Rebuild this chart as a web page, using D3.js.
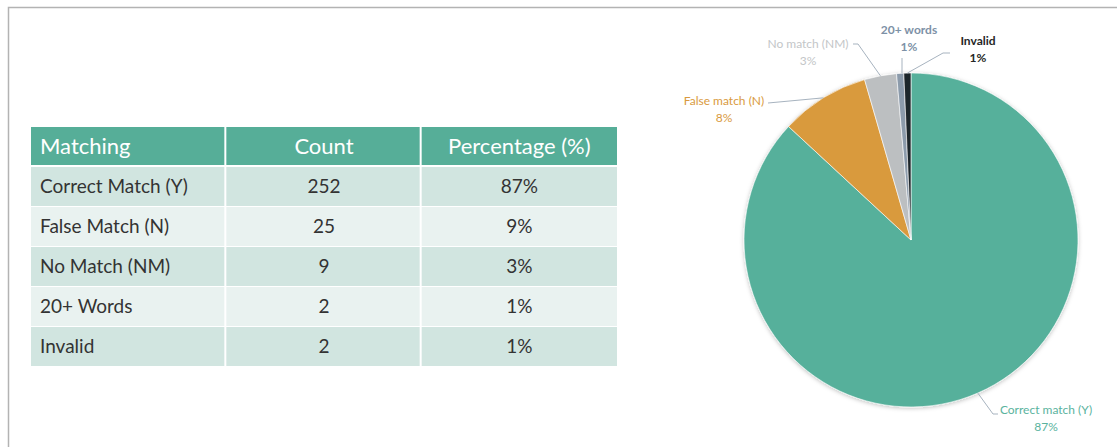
<!DOCTYPE html>
<html>
<head>
<meta charset="utf-8">
<script src="https://cdn.jsdelivr.net/npm/d3@7"></script>
<style>
  body { margin: 0; background: #fff; }
  svg { display: block; }
</style>
</head>
<body>
<div class="container"></div>
<script>
// table data
var headers = ["Matching", "Count", "Percentage (%)"];
var categories = ["Correct Match (Y)", "False Match (N)", "No Match (NM)", "20+ Words", "Invalid"];
var counts = [252, 25, 9, 2, 2];
var percents = ["87%", "9%", "3%", "1%", "1%"];

// pie data
var pieNames = ["Correct match (Y)", "False match (N)", "No match (NM)", "20+ words", "Invalid"];
var pieLabels = ["87%", "8%", "3%", "1%", "1%"];
var pieColors = ["#57b09b", "#d99a3e", "#bcbfc1", "#8c9bab", "#1f252a"];
var labelColors = ["#5ab39e", "#d99a3e", "#c3c6c8", "#7d91a6", "#262626"];

var W = 1117, H = 447;

var svg = d3.select('.container').append("svg")
	.attr("width", W)
	.attr("height", H);

// frame lines
svg.append("path")
	.attr("d", "M8.5," + H + "V7.5H" + W)
	.attr("fill", "none")
	.attr("stroke", "#b3b3b3")
	.attr("stroke-width", 1.5);

// ---- table ----
var tbl = { left: 31, right: 617, headTop: 127, headH: 38, bodyTop: 167, rowH: 40 };

var col = d3.scaleBand()
	.domain(d3.range(headers.length))
	.range([tbl.left, tbl.right]);

var row = d3.scaleBand()
	.domain(d3.range(categories.length))
	.range([tbl.bodyTop, tbl.bodyTop + tbl.rowH * categories.length]);

var head = svg.append("g");
head.selectAll("rect").data(headers).enter().append("rect")
	.attr("x", function (d, i) { return col(i); })
	.attr("y", tbl.headTop)
	.attr("width", function (d, i) { return col.bandwidth() - (i < headers.length - 1 ? 2 : 0); })
	.attr("height", tbl.headH)
	.attr("fill", "#56ae98");

head.selectAll("text").data(headers).enter().append("text")
	.attr("x", function (d, i) { return i === 0 ? col(i) + 9 : col(i) + col.bandwidth() / 2; })
	.attr("y", tbl.headTop + tbl.headH / 2 + 8)
	.attr("text-anchor", function (d, i) { return i === 0 ? "start" : "middle"; })
	.attr("fill", "#ffffff")
	.style("font-family", "Lato, 'Open Sans', sans-serif")
	.style("font-size", "22px")
	.text(function (d) { return d; });

var rowsData = categories.map(function (c, i) {
	return [c, String(counts[i]), percents[i]];
});

var rows = svg.selectAll("g.row").data(rowsData).enter().append("g")
	.attr("class", "row")
	.attr("transform", function (d, i) { return "translate(0," + row(i) + ")"; });

rows.selectAll("rect").data(function (d, i) { return d.map(function (v) { return { v: v, r: i }; }); })
	.enter().append("rect")
	.attr("x", function (d, i) { return col(i); })
	.attr("y", 0)
	.attr("width", function (d, i) { return col.bandwidth() - (i < headers.length - 1 ? 2 : 0); })
	.attr("height", row.bandwidth() - 1)
	.attr("fill", function (d) { return d.r % 2 === 0 ? "#d1e5e0" : "#e9f2f0"; });

rows.selectAll("text").data(function (d) { return d; })
	.enter().append("text")
	.attr("x", function (d, i) { return i === 0 ? col(i) + 9 : col(i) + col.bandwidth() / 2; })
	.attr("y", row.bandwidth() / 2 + 6)
	.attr("text-anchor", function (d, i) { return i === 0 ? "start" : "middle"; })
	.attr("fill", "#333333")
	.style("font-family", "Lato, 'Open Sans', sans-serif")
	.style("font-size", "19px")
	.text(function (d) { return d; });

// ---- pie ----
var cx = 911, cy = 240, R = 167;

var defs = svg.append("defs");
var f = defs.append("filter").attr("id", "shadow")
	.attr("x", "-10%").attr("y", "-10%").attr("width", "120%").attr("height", "120%");
f.append("feDropShadow").attr("dx", 0).attr("dy", 1).attr("stdDeviation", 2)
	.attr("flood-color", "#000").attr("flood-opacity", 0.25);

var pie = d3.pie().sort(null).value(function (d) { return d; });
var arcs = pie(counts);
var arc = d3.arc().innerRadius(0).outerRadius(R);

var pieG = svg.append("g").attr("transform", "translate(" + cx + "," + cy + ")");

pieG.append("g").attr("filter", "url(#shadow)")
	.selectAll("path").data(arcs).enter().append("path")
	.attr("d", arc)
	.attr("fill", function (d, i) { return pieColors[i]; })
	.attr("stroke", "#ffffff")
	.attr("stroke-width", 0.6);

// label layout (relative to pie centre): text centre, leader bend and end points
var labelLayout = [
	{ x: 135, y: 170, pts: [[82, 174], [87, 174]] },
	{ x: -187, y: -139, pts: [[-143, -137]] },
	{ x: -103, y: -196, pts: [[-53, -196], [-58, -196]] },
	{ x: -2, y: -210, pts: [[-9, -182]] },
	{ x: 67, y: -199, pts: [[32, -187], [39, -187]] }
];

var edge = function (d) {
	var a = (d.startAngle + d.endAngle) / 2;
	return [R * Math.sin(a), -R * Math.cos(a)];
};

pieG.selectAll("path.leader").data(arcs).enter().append("path")
	.attr("class", "leader")
	.attr("d", function (d, i) {
		var pts = [edge(d)].concat(labelLayout[i].pts);
		if (i === 3) pts[0] = [pts[1][0], pts[0][1]];
		return d3.line()(pts);
	})
	.attr("fill", "none")
	.attr("stroke", "#a7b3bf")
	.attr("stroke-width", 1);

var lab = pieG.selectAll("text.lab").data(arcs).enter().append("text")
	.attr("class", "lab")
	.attr("text-anchor", "middle")
	.attr("fill", function (d, i) { return labelColors[i]; })
	.style("font-family", "Lato, 'Open Sans', sans-serif")
	.style("font-size", "12px")
	.style("font-weight", function (d, i) { return i >= 3 ? "bold" : "normal"; });

lab.append("tspan")
	.attr("x", function (d, i) { return labelLayout[i].x; })
	.attr("y", function (d, i) { return labelLayout[i].y + 4; })
	.text(function (d, i) { return pieNames[i]; });

lab.append("tspan")
	.attr("x", function (d, i) { return labelLayout[i].x; })
	.attr("y", function (d, i) { return labelLayout[i].y + 21; })
	.text(function (d, i) { return pieLabels[i]; });
</script>
</body>
</html>
